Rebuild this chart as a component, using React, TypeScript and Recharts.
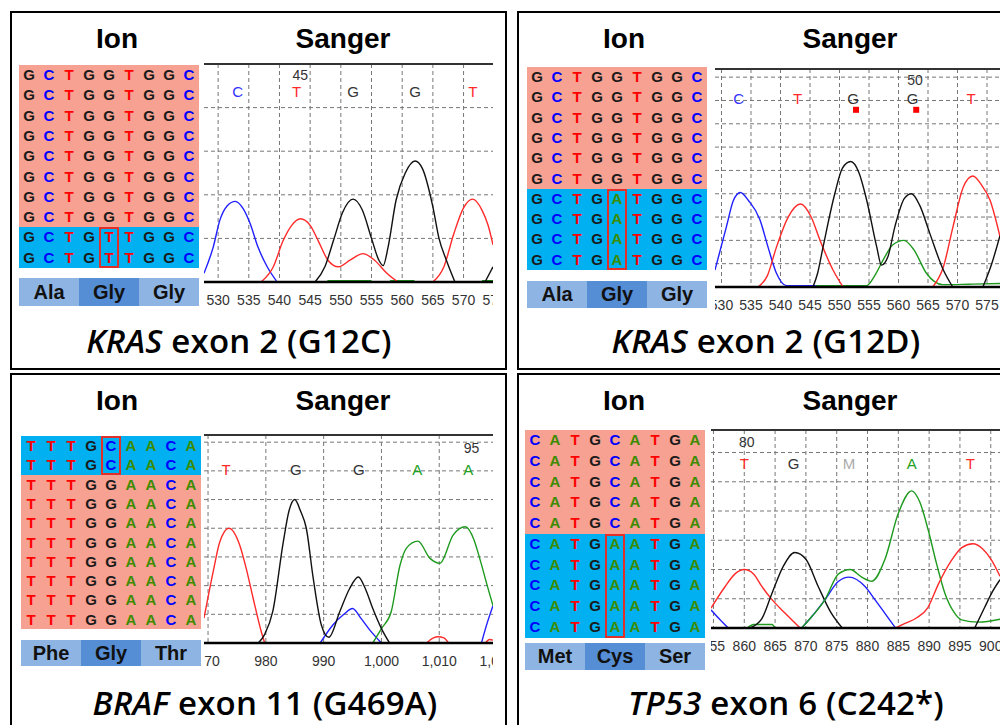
import { CartesianGrid, Line, LineChart, ReferenceDot, ReferenceLine, XAxis, YAxis } from "recharts";

type Pt = [number, number];
type Call = [number, string];

const letterColor: Record<string, string> = { G: "#1a1a1a", C: "#0000ff", T: "#ff0000", A: "#3d8b00" };
const callColor: Record<string, string> = { G: "#333333", C: "#3333ff", T: "#ff2a2a", A: "#22a022", M: "#aaaaaa" };
const traceColor = { blue: "#2020ff", red: "#ff2a2a", black: "#111111", green: "#1e9a1e" };

// ---------- KRAS exon 2 (G12C) ----------
const g12cWild = "GCTGGTGGC";
const g12cIonRows = [
  "GCTGGTGGC", "GCTGGTGGC", "GCTGGTGGC", "GCTGGTGGC", "GCTGGTGGC",
  "GCTGGTGGC", "GCTGGTGGC", "GCTGGTGGC", "GCTGTTGGC", "GCTGTTGGC",
];
const g12cAmino = ["Ala", "Gly", "Gly"];
const g12cTicks = [530, 535, 540, 545, 550, 555, 560, 565, 570, 575];
const g12cCalls: Call[] = [[533.2, "C"], [542.8, "T"], [552, "G"], [562.1, "G"], [571.5, "T"]];
const g12cPos: Call = [543.4, "45"];
const g12cBlue: Pt[] = [[527.7, 0.4], [529.2, 1.6], [530.3, 2.85], [531.5, 3.5], [532.8, 3.7], [534, 3.4], [535.2, 2.7], [536.5, 1.6], [538, 0.7], [539.5, 0.05]];
const g12cRed1: Pt[] = [[537, 0], [539, 0.7], [540.6, 1.9], [542, 2.6], [543.4, 2.9], [545, 2.6], [546.3, 1.9], [547.9, 1.0], [549.6, 0.7], [551.5, 1.0], [553.6, 1.3], [555.5, 1.0], [557.5, 0.4], [559.3, 0]];
const g12cRed2: Pt[] = [[565, 0], [566.8, 0.7], [568.4, 2.2], [570, 3.4], [571.5, 3.8], [573, 3.3], [574, 2.6], [574.8, 1.7]];
const g12cBlack1: Pt[] = [[545.8, 0], [547.4, 0.7], [548.8, 1.9], [550.3, 3.2], [552, 3.8], [553.5, 3.3], [555, 2.0], [556.2, 1.0], [556.9, 0.75], [557.7, 1.6], [559, 3.75], [560.5, 5.0], [562.1, 5.55], [563.3, 5.2], [565, 3.45], [566, 2.0], [567.2, 1.0], [568.6, 0]];
const g12cBlack2: Pt[] = [[573.5, 0], [574.8, 0.7]];
const g12cGreen1: Pt[] = [[547.8, 0.06], [555, 0.06]];
const g12cGreen2: Pt[] = [[558, 0.06], [562, 0.06]];
const g12cGreen3: Pt[] = [[573, 0.06], [574.8, 0.06]];

// ---------- KRAS exon 2 (G12D) ----------
const g12dWild = "GCTGGTGGC";
const g12dIonRows = [
  "GCTGGTGGC", "GCTGGTGGC", "GCTGGTGGC", "GCTGGTGGC", "GCTGGTGGC",
  "GCTGGTGGC", "GCTGATGGC", "GCTGATGGC", "GCTGATGGC", "GCTGATGGC",
];
const g12dAmino = ["Ala", "Gly", "Gly"];
const g12dTicks = [530, 535, 540, 545, 550, 555, 560, 565, 570, 575];
const g12dCalls: Call[] = [[532.9, "C"], [542.9, "T"], [552.3, "G"], [562.4, "G"], [572.3, "T"]];
const g12dPos: Call = [562.8, "50"];
const g12dMarks = [552.8, 563];
const g12dBlue: Pt[] = [[528.9, 0.73], [530.85, 2.6], [532, 3.7], [533.2, 4.05], [534.6, 3.7], [536.5, 2.9], [537.9, 1.7], [539.3, 0.6], [541, 0.06], [546, 0.06]];
const g12dRed1: Pt[] = [[536.2, 0], [537.8, 0.5], [539.3, 1.7], [541.3, 3.0], [543.4, 3.56], [545.2, 3.0], [546.7, 2.0], [548.9, 0.73], [550.6, 0]];
const g12dRed2: Pt[] = [[565.8, 0], [567.6, 0.86], [569.25, 2.6], [571, 4.3], [572.6, 4.76], [574, 4.4], [575.5, 3.73], [577.2, 2.16]];
const g12dBlack1: Pt[] = [[545.5, 0], [546.3, 0.6], [547.2, 1.7], [549.2, 4.0], [550.5, 5.1], [551.9, 5.38], [553.3, 4.9], [554.6, 3.73], [556.3, 1.73], [557.1, 0.94], [558.2, 1.3], [559.4, 2.6], [561, 3.8], [562.2, 4.0], [563.6, 3.5], [565.3, 2.3], [567.6, 0.73], [569.2, 0]];
const g12dBlack2: Pt[] = [[574.3, 0], [575.8, 1.0], [577.2, 2.2]];
const g12dGreen: Pt[] = [[546, 0.06], [554.6, 0.06], [556, 0.5], [557.4, 1.16], [559, 1.8], [560.9, 2.0], [562.6, 1.6], [564.7, 0.6], [567.5, 0.1], [572, 0.12], [577.2, 0.15]];

// ---------- BRAF exon 11 (G469A) ----------
const g469Wild = "TTTGGAACA";
const g469IonRows = [
  "TTTGCAACA", "TTTGCAACA", "TTTGGAACA", "TTTGGAACA", "TTTGGAACA",
  "TTTGGAACA", "TTTGGAACA", "TTTGGAACA", "TTTGGAACA", "TTTGGAACA",
];
const g469Amino = ["Phe", "Gly", "Thr"];
const g469Ticks = [970, 980, 990, 1000, 1010, 1020];
const g469Calls: Call[] = [[973.1, "T"], [985.2, "G"], [996.1, "G"], [1006.2, "A"], [1015, "A"]];
const g469Pos: Call = [1015.6, "95"];
const g469Red1: Pt[] = [[969.3, 0.87], [970.9, 2.5], [972, 3.5], [973.6, 4.0], [975.5, 3.4], [976.6, 2.6], [977.8, 1.56], [979.2, 0.4], [979.8, 0]];
const g469Black: Pt[] = [[978.7, 0], [979.8, 0.3], [981.2, 1.1], [983, 3.5], [984, 4.6], [985, 5.0], [986, 4.6], [987, 4.0], [988.2, 2.25], [989.6, 0.63], [990.9, 0.2], [992.8, 1.1], [994.5, 1.9], [996, 2.3], [997.2, 1.9], [998.5, 1.2], [1000, 0.5], [1001.4, 0]];
const g469Blue1: Pt[] = [[989.4, 0], [991.6, 0.63], [993.5, 1.0], [995, 1.2], [996.5, 0.85], [998, 0.45], [1000, 0]];
const g469Green: Pt[] = [[998.5, 0], [1000, 0.5], [1001.7, 1.1], [1003.2, 2.7], [1004.3, 3.3], [1006.3, 3.55], [1008.4, 2.95], [1010.1, 2.78], [1012.4, 3.76], [1014.5, 4.05], [1016, 3.6], [1017, 2.95], [1018.3, 2.0], [1019.3, 1.3]];
const g469Red2: Pt[] = [[1007.8, 0], [1009, 0.18], [1009.8, 0.22], [1010.8, 0.18], [1011.6, 0]];
const g469Blue2: Pt[] = [[1017.3, 0], [1018.3, 0.7], [1019.3, 1.3]];
const g469Red3: Pt[] = [[1018, 0], [1018.7, 0.12], [1019.3, 0.1]];

// ---------- TP53 exon 6 (C242*) ----------
const c242Wild = "CATGCATGA";
const c242IonRows = [
  "CATGCATGA", "CATGCATGA", "CATGCATGA", "CATGCATGA", "CATGCATGA",
  "CATGAATGA", "CATGAATGA", "CATGAATGA", "CATGAATGA", "CATGAATGA",
];
const c242Amino = ["Met", "Cys", "Ser"];
const c242Ticks = [855, 860, 865, 870, 875, 880, 885, 890, 895, 900];
const c242Calls: Call[] = [[860, "T"], [868, "G"], [877, "M"], [887.2, "A"], [896.7, "T"]];
const c242Pos: Call = [860.4, "80"];
const c242Blue1: Pt[] = [[854.6, 0.62], [856, 0.3], [857.4, 0]];
const c242Red1: Pt[] = [[854.6, 0.68], [856.9, 1.42], [858.5, 1.85], [860, 2.0], [861.5, 1.85], [862.85, 1.42], [864.5, 0.97], [866.6, 0.51], [869.05, 0]];
const c242Green1: Pt[] = [[860.5, 0], [861.5, 0.12], [864.5, 0.12], [865, 0]];
const c242Black1: Pt[] = [[860.9, 0], [862.8, 0.3], [864.5, 1.19], [866.3, 2.1], [868.2, 2.58], [870, 2.35], [872, 1.42], [874, 0.55], [875.9, 0]];
const c242Blue2: Pt[] = [[869.3, 0], [871, 0.4], [873.1, 0.97], [875.3, 1.6], [877, 1.74], [879.6, 1.42], [881.2, 0.97], [883, 0.45], [884.55, 0]];
const c242Green2: Pt[] = [[869.3, 0], [871, 0.4], [873.1, 0.97], [875.3, 1.85], [877.2, 2.0], [879, 1.75], [880.7, 1.6], [882.8, 2.33], [885, 3.92], [887.15, 4.69], [888.5, 4.3], [889.85, 3.35], [891.2, 2.2], [892.55, 1.19], [894, 0.55], [895.25, 0.28], [898, 0.2], [901.5, 0.3]];
const c242Red2: Pt[] = [[884.55, 0], [886, 0.15], [888, 0.35], [889.8, 0.7], [891.5, 1.5], [893.6, 2.3], [895.3, 2.75], [897.1, 2.88], [898.7, 2.7], [900.1, 2.33], [901.5, 1.77]];
const c242Black2: Pt[] = [[897.4, 0], [899, 0.7], [900.3, 1.25], [901.5, 1.65]];

type Trace = { color: string; pts: Pt[] };

const panels = [
  {
    ox: 0, oy: 0,
    gene: "KRAS", rest: " exon 2 (G12C)", capX: 239, capY: 340,
    ion: { x: 19, y: 65, rowH: 20.3, rows: g12cIonRows, wild: g12cWild },
    amino: { x: 19, y: 278, h: 28, names: g12cAmino },
    chart: {
      left: 204, top: 64, width: 289, height: 218, xDomain: [527.7, 574.8], yMax: 10,
      ticks: g12cTicks, calls: g12cCalls, callY: 8.72, pos: g12cPos, posY: 9.5, marks: [] as number[], markY: 0,
      traces: [
        { color: traceColor.green, pts: g12cGreen1 }, { color: traceColor.green, pts: g12cGreen2 }, { color: traceColor.green, pts: g12cGreen3 },
        { color: traceColor.blue, pts: g12cBlue }, { color: traceColor.red, pts: g12cRed1 }, { color: traceColor.red, pts: g12cRed2 },
        { color: traceColor.black, pts: g12cBlack1 }, { color: traceColor.black, pts: g12cBlack2 },
      ] as Trace[],
    },
    titleY: 39,
  },
  {
    ox: 507, oy: 0,
    gene: "KRAS", rest: " exon 2 (G12D)", capX: 766, capY: 340,
    ion: { x: 527, y: 67, rowH: 20.3, rows: g12dIonRows, wild: g12dWild },
    amino: { x: 527, y: 281, h: 27, names: g12dAmino },
    chart: {
      left: 715, top: 69, width: 285, height: 218, xDomain: [528.9, 577.2], yMax: 9.35,
      ticks: g12dTicks, calls: g12dCalls, callY: 8.07, pos: g12dPos, posY: 8.88, marks: g12dMarks, markY: 7.6,
      traces: [
        { color: traceColor.green, pts: g12dGreen }, { color: traceColor.blue, pts: g12dBlue },
        { color: traceColor.red, pts: g12dRed1 }, { color: traceColor.red, pts: g12dRed2 },
        { color: traceColor.black, pts: g12dBlack1 }, { color: traceColor.black, pts: g12dBlack2 },
      ] as Trace[],
    },
    titleY: 39,
  },
  {
    ox: 0, oy: 362,
    gene: "BRAF", rest: " exon 11 (G469A)", capX: 265, capY: 702,
    ion: { x: 21, y: 436, rowH: 19.3, rows: g469IonRows, wild: g469Wild },
    amino: { x: 21, y: 640, h: 26, names: g469Amino },
    chart: {
      left: 204, top: 435, width: 289, height: 208, xDomain: [969.3, 1019.3], yMax: 7.25,
      ticks: g469Ticks, calls: g469Calls, callY: 6.03, pos: g469Pos, posY: 6.8, marks: [] as number[], markY: 0,
      traces: [
        { color: traceColor.red, pts: g469Red2 }, { color: traceColor.red, pts: g469Red3 },
        { color: traceColor.blue, pts: g469Blue1 }, { color: traceColor.blue, pts: g469Blue2 },
        { color: traceColor.green, pts: g469Green }, { color: traceColor.red, pts: g469Red1 },
        { color: traceColor.black, pts: g469Black },
      ] as Trace[],
    },
    titleY: 401,
  },
  {
    ox: 507, oy: 362,
    gene: "TP53", rest: " exon 6 (C242*)", capX: 786, capY: 702,
    ion: { x: 525, y: 430, rowH: 20.77, rows: c242IonRows, wild: c242Wild },
    amino: { x: 525, y: 643, h: 27, names: c242Amino },
    chart: {
      left: 711, top: 430, width: 289, height: 198, xDomain: [854.6, 901.5], yMax: 6.77,
      ticks: c242Ticks, calls: c242Calls, callY: 5.63, pos: c242Pos, posY: 6.37, marks: [] as number[], markY: 0,
      traces: [
        { color: traceColor.green, pts: c242Green1 }, { color: traceColor.blue, pts: c242Blue1 },
        { color: traceColor.red, pts: c242Red1 }, { color: traceColor.black, pts: c242Black1 },
        { color: traceColor.blue, pts: c242Blue2 }, { color: traceColor.green, pts: c242Green2 },
        { color: traceColor.red, pts: c242Red2 }, { color: traceColor.black, pts: c242Black2 },
      ] as Trace[],
    },
    titleY: 401,
  },
];

const sans = "'Liberation Sans', Arial, sans-serif";

function Label({ x, y, children, style }: { x: number; y: number; children: React.ReactNode; style?: React.CSSProperties }) {
  return (
    <div
      style={{
        position: "absolute", left: x, top: y, transform: "translate(-50%, -50%)",
        whiteSpace: "nowrap", lineHeight: 1, ...style,
      }}
    >
      {children}
    </div>
  );
}

function IonGrid({ x, y, rowH, rows, wild }: { x: number; y: number; rowH: number; rows: string[]; wild: string }) {
  const mutRows = rows.map((r, i) => (r !== wild ? i : -1)).filter((i) => i >= 0);
  const boxTop = y + mutRows[0] * rowH;
  const boxH = mutRows.length * rowH;
  return (
    <>
      {rows.map((r, i) => (
        <div key={i} style={{ position: "absolute", left: x, top: y + i * rowH, width: 180, height: rowH + 0.5, background: r !== wild ? "#00b0f0" : "#f6a191" }}>
          {r.split("").map((ch, j) => (
            <span key={j} style={{ position: "absolute", left: j * 20, width: 20, top: 0, height: rowH, lineHeight: `${rowH}px`, textAlign: "center", fontWeight: 700, fontSize: 15, color: letterColor[ch], fontFamily: sans }}>
              {ch}
            </span>
          ))}
        </div>
      ))}
      <div style={{ position: "absolute", left: x + 80, top: boxTop, width: 20, height: boxH, border: "2px solid #e0302a", boxSizing: "border-box" }} />
    </>
  );
}

function AminoBar({ x, y, h, names }: { x: number; y: number; h: number; names: string[] }) {
  return (
    <>
      {names.map((n, i) => (
        <div key={i} style={{ position: "absolute", left: x + i * 60, top: y, width: 60, height: h, background: i === 1 ? "#558ed5" : "#8db4e2", textAlign: "center", lineHeight: `${h}px`, fontSize: 20, fontWeight: 700, fontFamily: sans, color: "#111" }}>
          {n}
        </div>
      ))}
    </>
  );
}

function Chromatogram(c: (typeof panels)[number]["chart"]) {
  const hLines = Array.from({ length: Math.floor(c.yMax) }, (_, i) => i + 1);
  const comma = c.ticks[0] >= 1000 || c.ticks[c.ticks.length - 1] >= 1000;
  return (
    <div style={{ position: "absolute", left: c.left, top: c.top - 4, width: c.width, height: c.height + 4 + 30, overflow: "hidden" }}>
      <LineChart width={c.width} height={c.height + 34} margin={{ top: 4, right: 0, bottom: 0, left: 0 }}>
        <CartesianGrid horizontalValues={hLines} verticalValues={c.ticks} stroke="#777" strokeDasharray="4 3" />
        <XAxis
          type="number" dataKey="x" domain={c.xDomain} ticks={c.ticks} interval={0} allowDataOverflow height={30}
          tickLine={false} axisLine={{ stroke: "#000", strokeWidth: 2.5 }} tickMargin={7}
          tick={{ fontSize: 14, fill: "#333", fontFamily: sans }}
          tickFormatter={(v: number) => (comma ? v.toLocaleString("en-US") : String(v))}
        />
        <YAxis type="number" domain={[0, c.yMax]} hide allowDataOverflow />
        <ReferenceLine y={c.yMax} stroke="#333" strokeWidth={2} />
        {c.traces.map((t, i) => (
          <Line key={i} data={t.pts.map(([x, y]) => ({ x, y }))} dataKey="y" type="monotone" stroke={t.color} strokeWidth={1.4} dot={false} isAnimationActive={false} />
        ))}
        {c.calls.map(([x, b], i) => (
          <ReferenceDot key={`c${i}`} x={x} y={c.callY} r={0} fill="none" stroke="none"
            label={{ value: b, position: "center", fill: callColor[b], fontSize: 15, fontFamily: sans }} />
        ))}
        <ReferenceDot x={c.pos[0]} y={c.posY} r={0} fill="none" stroke="none"
          label={{ value: c.pos[1], position: "center", fill: "#333", fontSize: 14, fontFamily: sans }} />
        {c.marks.map((x, i) => (
          <ReferenceDot key={`m${i}`} x={x} y={c.markY} r={3}
            shape={(p: { cx: number; cy: number }) => <rect x={p.cx - 3} y={p.cy - 3} width={6} height={6} fill="#ff0000" />} />
        ))}
      </LineChart>
    </div>
  );
}

export default function App() {
  return (
    <div style={{ position: "absolute", left: 0, top: 0, width: 1000, height: 725, overflow: "hidden", background: "#fff", fontFamily: sans }}>
      {/* panel frames */}
      <div style={{ position: "absolute", left: 10, top: 11, width: 497, height: 359, border: "2px solid #000", boxSizing: "border-box" }} />
      <div style={{ position: "absolute", left: 517, top: 11, width: 500, height: 359, border: "2px solid #000", boxSizing: "border-box" }} />
      <div style={{ position: "absolute", left: 10, top: 373, width: 497, height: 400, border: "2px solid #000", boxSizing: "border-box" }} />
      <div style={{ position: "absolute", left: 517, top: 373, width: 500, height: 400, border: "2px solid #000", boxSizing: "border-box" }} />

      {panels.map((p, k) => (
        <div key={k}>
          <Label x={117 + p.ox} y={p.titleY} style={{ fontSize: 28, fontWeight: 700 }}>Ion</Label>
          <Label x={343 + p.ox} y={p.titleY} style={{ fontSize: 28, fontWeight: 700 }}>Sanger</Label>
          <IonGrid {...p.ion} />
          <AminoBar {...p.amino} />
          <Chromatogram {...p.chart} />
          <Label x={p.capX} y={p.capY} style={{ fontSize: 33, fontWeight: 600, fontFamily: "'Open Sans', sans-serif", letterSpacing: 0.2 }}>
            <i>{p.gene}</i>
            {p.rest}
          </Label>
        </div>
      ))}
    </div>
  );
}
